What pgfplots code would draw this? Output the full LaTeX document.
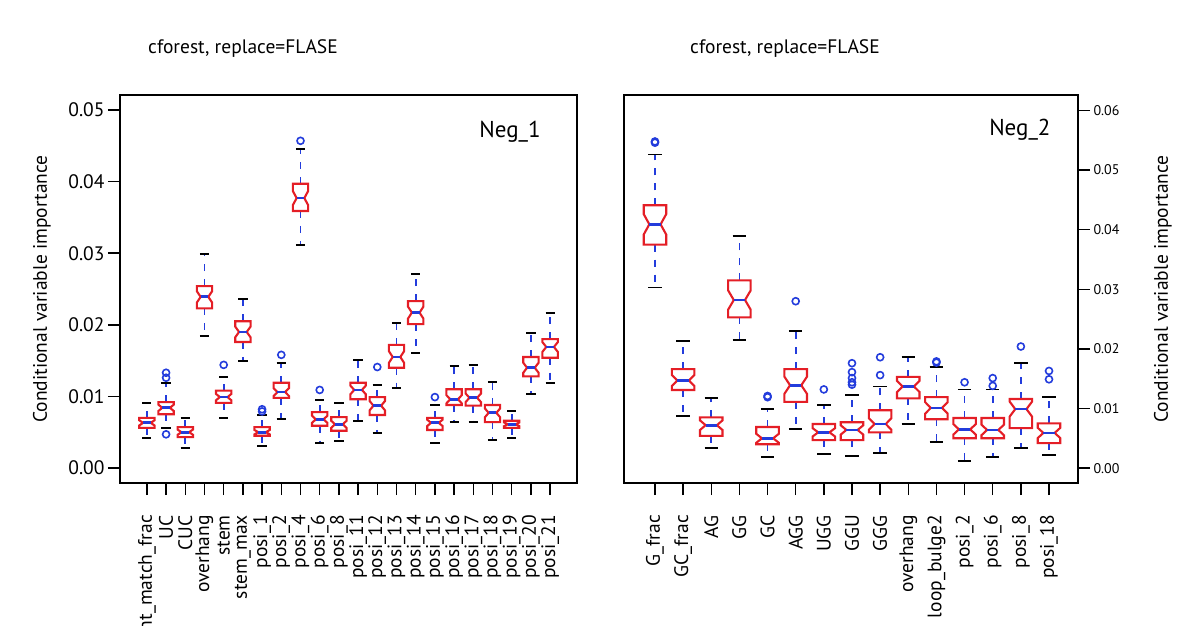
\documentclass[border=0pt]{standalone}
\usepackage{pgfplots}
\pgfplotsset{compat=1.18}
\usepgfplotslibrary{statistics}
\usepackage{fontspec}
\setmainfont{PT Sans}
\definecolor{rred}{RGB}{228,30,38}
\definecolor{rblue}{RGB}{35,60,220}
\newcommand\fA{\fontsize{19.5bp}{22bp}\selectfont}
\newcommand\fX{\fontsize{19.5bp}{22bp}\selectfont}
\newcommand\fS{\fontsize{14bp}{16bp}\selectfont}
% all values below are in units of 0.001 (importance x 1000)
\pgfplotsset{
  rbox/.style={
    boxplot/draw direction=y,
    boxplot prepared={#1},
    boxplot/box extend=0.8,
    mark=o, mark size=3.5bp,
    mark options={draw=rblue, line width=1.6bp, solid},
    boxplot/draw/box/.code={%
      \pgfmathsetmacro\bxL{\pgfplotsboxplotvalue{lower quartile}}%
      \pgfmathsetmacro\bxU{\pgfplotsboxplotvalue{upper quartile}}%
      \pgfmathsetmacro\bxM{\pgfplotsboxplotvalue{median}}%
      \pgfmathsetmacro\bxA{\bxM-0.26*(\bxU-\bxL)}%
      \pgfmathsetmacro\bxB{\bxM+0.26*(\bxU-\bxL)}%
      \filldraw[draw=rred, fill=white, line width=2.1bp, line join=miter]
        (boxplot box cs:\bxL,0) -- (boxplot box cs:\bxA,0) -- (boxplot box cs:\bxM,0.25)
        -- (boxplot box cs:\bxB,0) -- (boxplot box cs:\bxU,0) -- (boxplot box cs:\bxU,1)
        -- (boxplot box cs:\bxB,1) -- (boxplot box cs:\bxM,0.75) -- (boxplot box cs:\bxA,1)
        -- (boxplot box cs:\bxL,1) -- cycle;
    },
    boxplot/draw/median/.code={%
      \draw[rblue, line width=2.8bp]
        (boxplot box cs:\pgfplotsboxplotvalue{median},0.25) --
        (boxplot box cs:\pgfplotsboxplotvalue{median},0.75);
    },
    boxplot/draw/whisker/.code 2 args={%
      \draw[rblue, line width=1.7bp, dash pattern=on 7bp off 8bp] (boxplot cs:##1) -- (boxplot cs:##2);
      \draw[black, line width=1.8bp] (boxplot box cs:##2,0.2) -- (boxplot box cs:##2,0.8);
    },
  },
  myaxis/.style={
    scale only axis, height=388bp,
    axis line style={line width=1.5bp},
    tick align=outside, major tick length=12bp,
    tick style={line width=1.5bp, black},
    xtick pos=bottom,
    xticklabel style={rotate=90, anchor=east, font=\fX, inner xsep=20bp},
    clip=false,
  },
}
\begin{document}
\begin{tikzpicture}
\useasboundingbox (0,0) rectangle (1200bp,626bp);
\node[font=\fA, anchor=base] at (243bp,572bp) {cforest, replace=FLASE};
\node[font=\fA, anchor=base] at (785bp,572bp) {cforest, replace=FLASE};
\begin{axis}[myaxis,
  at={(120bp,143bp)}, anchor=south west, width=457bp,
  xmin=-1.4, xmax=22.4, ymin=-2.1, ymax=52.1,
  ytick pos=left,
  ytick={0,10,20,30,40,50},
  yticklabels={0.00,0.01,0.02,0.03,0.04,0.05},
  yticklabel style={font=\fA},
  xtick={0,...,21},
  xticklabels={percent\_match\_frac,UC,CUC,overhang,stem,stem\_max,posi\_1,posi\_2,posi\_4,posi\_6,posi\_8,posi\_11,posi\_12,posi\_13,posi\_14,posi\_15,posi\_16,posi\_17,posi\_18,posi\_19,posi\_20,posi\_21},
  ylabel={Conditional variable importance},
  ylabel style={font=\fA, at={(axis description cs:-0.171,0.5)}, anchor=center},
]
\addplot[rbox={draw position=0, lower whisker=4.2, lower quartile=5.6, median=6.3, upper quartile=7.0, upper whisker=9.1}] coordinates {};
\addplot[rbox={draw position=1, lower whisker=5.6, lower quartile=7.5, median=8.4, upper quartile=9.2, upper whisker=11.9}] coordinates {(1,13.3) (1,12.6) (1,4.7)};
\addplot[rbox={draw position=2, lower whisker=2.8, lower quartile=4.3, median=5.0, upper quartile=5.7, upper whisker=7.0}] coordinates {};
\addplot[rbox={draw position=3, lower whisker=18.4, lower quartile=22.3, median=23.9, upper quartile=25.4, upper whisker=29.9}] coordinates {};
\addplot[rbox={draw position=4, lower whisker=7.0, lower quartile=9.1, median=9.9, upper quartile=10.8, upper whisker=12.7}] coordinates {(4,14.4)};
\addplot[rbox={draw position=5, lower whisker=14.9, lower quartile=17.6, median=19.0, upper quartile=20.5, upper whisker=23.6}] coordinates {};
\addplot[rbox={draw position=6, lower whisker=3.1, lower quartile=4.5, median=5.0, upper quartile=5.7, upper whisker=7.4}] coordinates {(6,8.2) (6,7.9)};
\addplot[rbox={draw position=7, lower whisker=6.8, lower quartile=9.8, median=10.6, upper quartile=11.9, upper whisker=14.7}] coordinates {(7,15.8)};
\addplot[rbox={draw position=8, lower whisker=31.1, lower quartile=35.9, median=37.7, upper quartile=39.7, upper whisker=44.6}] coordinates {(8,45.7)};
\addplot[rbox={draw position=9, lower whisker=3.5, lower quartile=5.9, median=6.8, upper quartile=7.8, upper whisker=9.5}] coordinates {(9,10.9)};
\addplot[rbox={draw position=10, lower whisker=3.8, lower quartile=5.2, median=6.1, upper quartile=7.1, upper whisker=9.1}] coordinates {};
\addplot[rbox={draw position=11, lower whisker=6.6, lower quartile=9.6, median=10.9, upper quartile=11.9, upper whisker=15.1}] coordinates {};
\addplot[rbox={draw position=12, lower whisker=4.9, lower quartile=7.4, median=8.7, upper quartile=9.9, upper whisker=11.6}] coordinates {(12,14.1)};
\addplot[rbox={draw position=13, lower whisker=11.2, lower quartile=14.0, median=15.5, upper quartile=17.2, upper whisker=20.2}] coordinates {};
\addplot[rbox={draw position=14, lower whisker=16.1, lower quartile=20.1, median=21.7, upper quartile=23.3, upper whisker=27.1}] coordinates {};
\addplot[rbox={draw position=15, lower whisker=3.5, lower quartile=5.3, median=6.3, upper quartile=7.0, upper whisker=8.8}] coordinates {(15,9.9)};
\addplot[rbox={draw position=16, lower whisker=6.4, lower quartile=8.8, median=9.6, upper quartile=11.0, upper whisker=14.2}] coordinates {};
\addplot[rbox={draw position=17, lower whisker=6.4, lower quartile=8.7, median=9.8, upper quartile=11.0, upper whisker=14.4}] coordinates {};
\addplot[rbox={draw position=18, lower whisker=3.9, lower quartile=6.4, median=7.7, upper quartile=8.8, upper whisker=12.0}] coordinates {};
\addplot[rbox={draw position=19, lower whisker=4.2, lower quartile=5.6, median=6.1, upper quartile=6.6, upper whisker=8.0}] coordinates {};
\addplot[rbox={draw position=20, lower whisker=10.3, lower quartile=12.8, median=14.0, upper quartile=15.5, upper whisker=18.9}] coordinates {};
\addplot[rbox={draw position=21, lower whisker=11.9, lower quartile=15.4, median=16.9, upper quartile=18.0, upper whisker=21.7}] coordinates {};
\node[font=\fontsize{23bp}{25bp}\selectfont, anchor=east] at (rel axis cs:0.928,0.905) {Neg\_1};
\end{axis}
\begin{axis}[myaxis,
  at={(624bp,143bp)}, anchor=south west, width=454bp,
  xmin=-1.1, xmax=15.03, ymin=-2.5, ymax=62.6,
  ytick pos=right, yticklabel pos=right,
  ytick={0,10,20,30,40,50,60},
  yticklabels={0.00,0.01,0.02,0.03,0.04,0.05,0.06},
  yticklabel style={font=\fS},
  xtick={0,...,14},
  xticklabels={G\_frac,GC\_frac,AG,GG,GC,AGG,UGG,GGU,GGG,overhang,loop\_bulge2,posi\_2,posi\_6,posi\_8,posi\_18},
  ylabel={Conditional variable importance},
  ylabel style={font=\fA, at={(axis description cs:1.187,0.5)}, anchor=center},
]
\addplot[rbox={draw position=0, lower whisker=30.3, lower quartile=37.5, median=40.9, upper quartile=44.1, upper whisker=52.6}] coordinates {(0,54.6) (0,54.8)};
\addplot[rbox={draw position=1, lower whisker=8.7, lower quartile=13.1, median=14.7, upper quartile=16.6, upper whisker=21.3}] coordinates {};
\addplot[rbox={draw position=2, lower whisker=3.4, lower quartile=5.4, median=7.2, upper quartile=8.5, upper whisker=11.7}] coordinates {};
\addplot[rbox={draw position=3, lower whisker=21.5, lower quartile=25.3, median=28.2, upper quartile=31.5, upper whisker=38.9}] coordinates {};
\addplot[rbox={draw position=4, lower whisker=1.8, lower quartile=4.0, median=5.0, upper quartile=6.9, upper whisker=9.9}] coordinates {(4,12.1) (4,11.9)};
\addplot[rbox={draw position=5, lower whisker=6.5, lower quartile=11.1, median=13.9, upper quartile=16.6, upper whisker=23.0}] coordinates {(5,28.0)};
\addplot[rbox={draw position=6, lower whisker=2.3, lower quartile=4.7, median=6.0, upper quartile=7.4, upper whisker=10.6}] coordinates {(6,13.2)};
\addplot[rbox={draw position=7, lower whisker=2.0, lower quartile=4.7, median=6.4, upper quartile=7.7, upper whisker=12.2}] coordinates {(7,17.6) (7,16.1) (7,15.1) (7,14.4) (7,14.0)};
\addplot[rbox={draw position=8, lower whisker=2.5, lower quartile=6.0, median=7.4, upper quartile=9.7, upper whisker=13.7}] coordinates {(8,18.6) (8,15.6)};
\addplot[rbox={draw position=9, lower whisker=7.4, lower quartile=11.7, median=13.7, upper quartile=15.3, upper whisker=18.6}] coordinates {};
\addplot[rbox={draw position=10, lower whisker=4.4, lower quartile=8.2, median=10.1, upper quartile=11.9, upper whisker=16.9}] coordinates {(10,17.9) (10,17.7)};
\addplot[rbox={draw position=11, lower whisker=1.2, lower quartile=5.0, median=6.5, upper quartile=8.4, upper whisker=13.2}] coordinates {(11,14.4)};
\addplot[rbox={draw position=12, lower whisker=1.8, lower quartile=5.0, median=6.4, upper quartile=8.4, upper whisker=13.2}] coordinates {(12,15.1) (12,13.8)};
\addplot[rbox={draw position=13, lower whisker=3.4, lower quartile=6.7, median=9.9, upper quartile=11.6, upper whisker=17.6}] coordinates {(13,20.4)};
\addplot[rbox={draw position=14, lower whisker=2.2, lower quartile=4.2, median=5.9, upper quartile=7.5, upper whisker=11.9}] coordinates {(14,16.3) (14,14.9)};
\node[font=\fontsize{23bp}{25bp}\selectfont, anchor=east] at (rel axis cs:0.947,0.91) {Neg\_2};
\end{axis}
\end{tikzpicture}
\end{document}
